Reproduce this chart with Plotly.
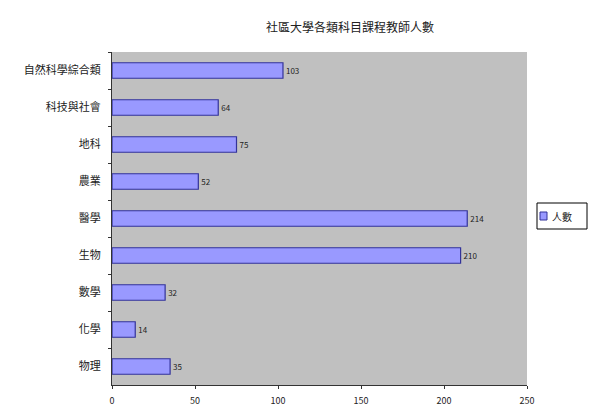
import plotly.graph_objects as go

categories = ["自然科學綜合類", "科技與社會", "地科", "農業", "醫學", "生物", "數學", "化學", "物理"]
values = [103, 64, 75, 52, 214, 210, 32, 14, 35]
series_name = "人數"
title_text = "社區大學各類科目課程教師人數"
x_ticks = [0, 50, 100, 150, 200, 250]

font_family = "Noto Sans CJK TC, Noto Sans, sans-serif"
W, H = 589, 408
L, R, T, B = 112, 527, 52, 385

def px_x(p):
    return (p - L) / (R - L)

def px_y(p):
    return (B - p) / (B - T)

fig = go.Figure()
fig.add_trace(go.Bar(
    y=categories,
    x=values,
    orientation="h",
    name=series_name,
    marker=dict(color="#9999FF", line=dict(color="#333399", width=1.2)),
    text=[str(v) for v in values],
    textposition="outside",
    textfont=dict(size=8, color="#222222", family=font_family),
    cliponaxis=False,
    showlegend=False,
))

# legend box drawn by hand so it keeps the reference's size
fig.add_shape(type="rect", xref="paper", yref="paper",
              x0=px_x(537), x1=px_x(587), y0=px_y(229), y1=px_y(203),
              line=dict(color="#000000", width=1), fillcolor="white", layer="above")
fig.add_shape(type="rect", xref="paper", yref="paper",
              x0=px_x(540), x1=px_x(547), y0=px_y(220), y1=px_y(212),
              line=dict(color="#333399", width=1), fillcolor="#9999FF", layer="above")
fig.add_annotation(text=series_name, xref="paper", yref="paper",
                   x=px_x(550), y=px_y(216), xanchor="left", yanchor="middle",
                   showarrow=False, font=dict(size=10, color="#222222"))

fig.update_layout(
    width=W, height=H,
    margin=dict(l=L, r=W - R, t=T, b=H - B, autoexpand=False),
    paper_bgcolor="white",
    plot_bgcolor="#C0C0C0",
    bargap=0.58,
    font=dict(family=font_family, size=9, color="#222222"),
    title=dict(text=title_text, x=350 / W, xanchor="center", y=1 - 28 / H, yanchor="middle",
               font=dict(size=12, color="#222222")),
    showlegend=False,
)
fig.update_yaxes(
    autorange="reversed",
    type="category",
    tickson="boundaries",
    ticks="outside", ticklen=3, tickcolor="#333333",
    showline=True, linecolor="#333333", linewidth=1,
    showgrid=False, automargin=False,
    ticklabelstandoff=8,
    tickfont=dict(size=11),
)
fig.update_xaxes(
    range=[0, 250],
    tickvals=x_ticks,
    ticktext=[str(t) for t in x_ticks],
    ticks="outside", ticklen=3, tickcolor="#333333",
    showline=True, linecolor="#333333", linewidth=1,
    showgrid=False, zeroline=False, automargin=False,
    ticklabelstandoff=4,
    tickfont=dict(size=9),
)

fig.write_html("out.html")
